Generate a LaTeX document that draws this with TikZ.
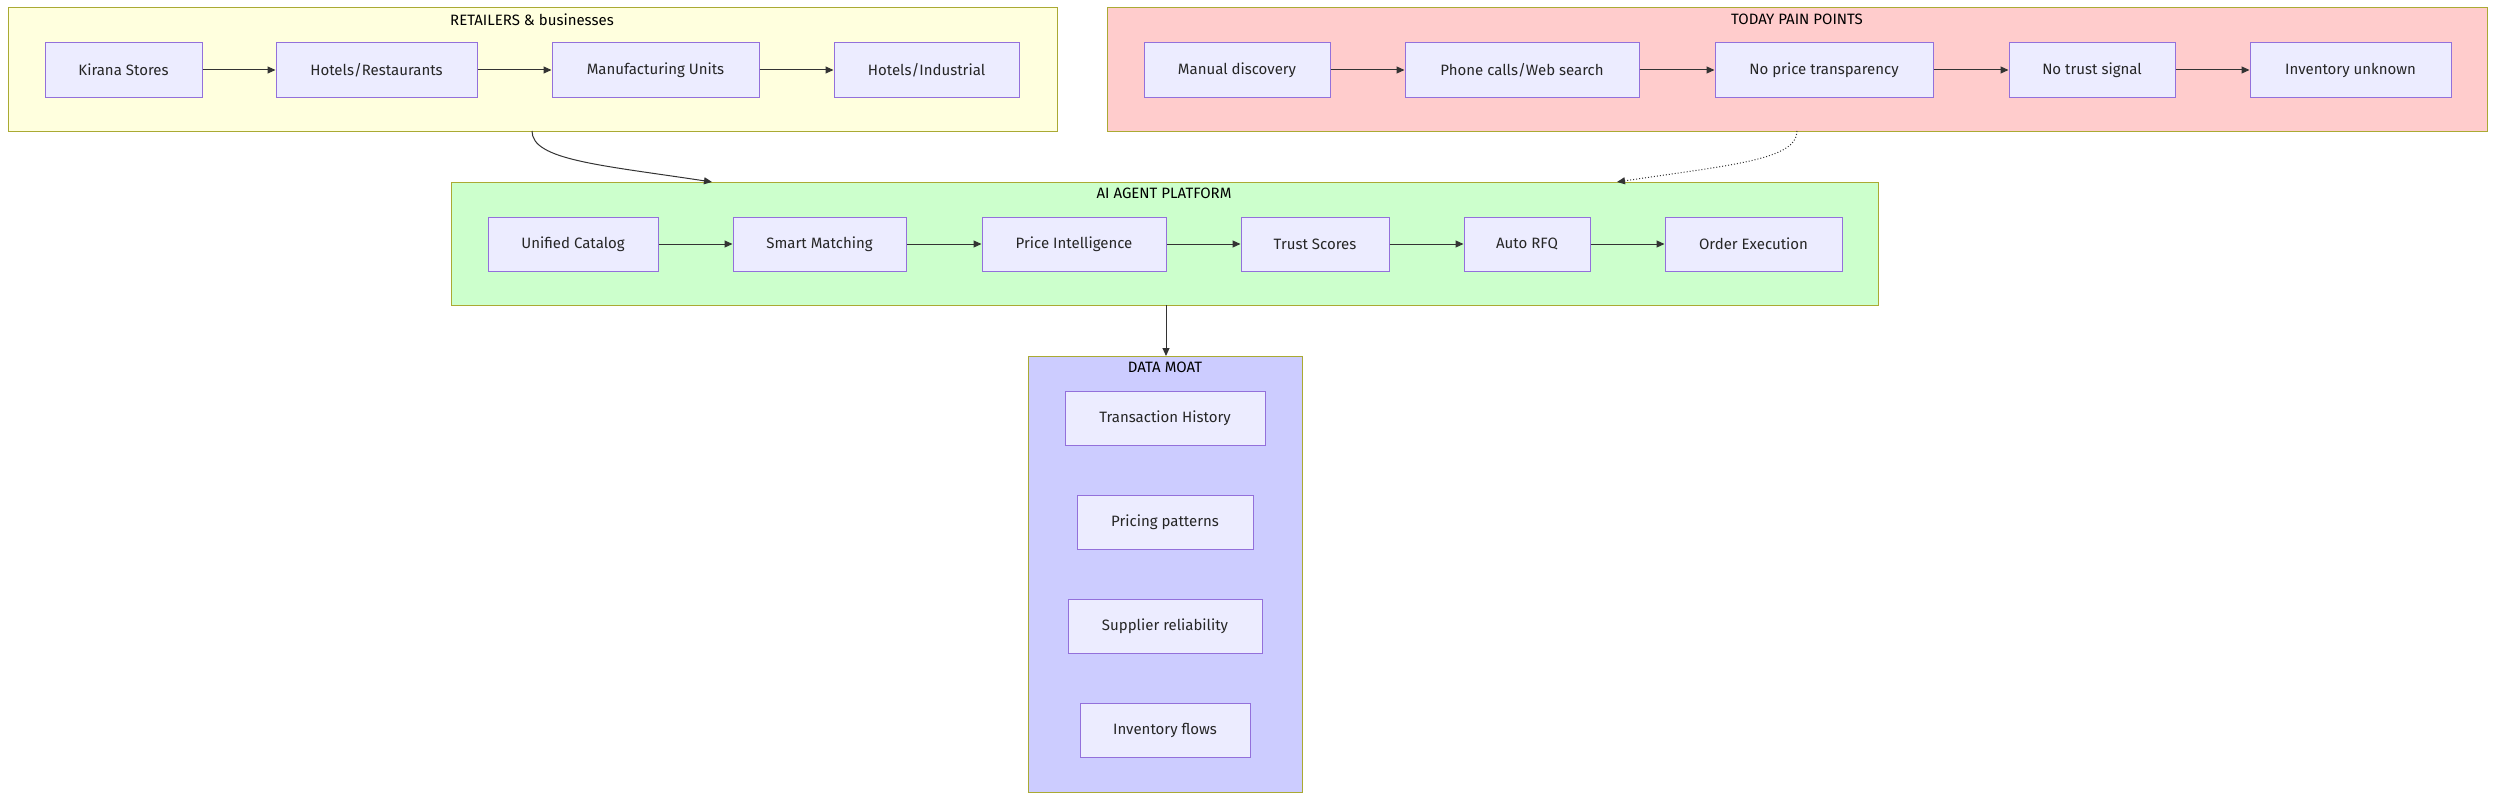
\documentclass[tikz,border=0pt]{standalone}
\usepackage{fontspec}
\setmainfont{Fira Sans}
\usetikzlibrary{arrows.meta}
\definecolor{nodefill}{HTML}{ECECFF}
\definecolor{nodeline}{HTML}{9370DB}
\definecolor{grpline}{HTML}{AAAA33}
\tikzset{
  box/.style={draw=nodeline, fill=nodefill, line width=1pt, inner sep=0pt,
    font=\fontsize{15}{18}\selectfont, text=black!85},
  grp/.style={draw=grpline, line width=1pt},
  title/.style={font=\fontsize{15}{18}\selectfont, anchor=north},
  flow/.style={draw=black!80, line width=1pt, -{Triangle[length=8pt,width=7pt]}}
}
\begin{document}
\begin{tikzpicture}[x=1pt,y=-1pt]
\useasboundingbox (0,0) rectangle (2495,800);
%groups
\draw[grp, fill={rgb,255:red,255;green,255;blue,222}] (8,8) rectangle (1057,131);
\draw[grp, fill={rgb,255:red,255;green,204;blue,204}] (1107,8) rectangle (2487,131);
\draw[grp, fill={rgb,255:red,204;green,255;blue,204}] (451,182) rectangle (1878,305);
\draw[grp, fill={rgb,255:red,204;green,204;blue,255}] (1028,356) rectangle (1302,792);
\node[title] (tRet) at (532,10) {RETAILERS \& businesses};
\node[title] (tPain) at (1797,10) {TODAY PAIN POINTS};
\node[title] (tAi) at (1164,184) {AI AGENT PLATFORM};
\node[title] (tMoat) at (1165,358) {DATA MOAT};
%nodes: name/left/right/top/bottom/text
\foreach \n/\l/\r/\t/\b/\s in {
  r1/45/202/43/97/{Kirana Stores},
  r2/276/477/43/97/{Hotels/Restaurants},
  r3/552/759/43/97/{Manufacturing Units},
  r4/834/1019/43/97/{Hotels/Industrial},
  p1/1144/1330/43/97/{Manual discovery},
  p2/1405/1639/43/97/{Phone calls/Web search},
  p3/1715/1933/43/97/{No price transparency},
  p4/2009/2175/43/97/{No trust signal},
  p5/2250/2451/43/97/{Inventory unknown},
  a1/488/658/217/271/{Unified Catalog},
  a2/733/906/217/271/{Smart Matching},
  a3/982/1166/217/271/{Price Intelligence},
  a4/1241/1389/217/271/{Trust Scores},
  a5/1464/1590/217/271/{Auto RFQ},
  a6/1665/1842/217/271/{Order Execution},
  m1/1065/1265/391/445/{Transaction History},
  m2/1077/1253/495/549/{Pricing patterns},
  m3/1068/1262/599/653/{Supplier reliability},
  m4/1080/1250/703/757/{Inventory flows}}
{
  \node[box, minimum width={(\r-\l)*1pt}, minimum height={(\b-\t)*1pt}]
    (\n) at ({(\l+\r)/2},{(\t+\b)/2}) {\s};
}
\foreach \u/\v in {r1/r2,r2/r3,r3/r4,p1/p2,p2/p3,p3/p4,p4/p5,a1/a2,a2/a3,a3/a4,a4/a5,a5/a6}
  \draw[flow] (\u) -- (\v);
%links between groups
\coordinate (retB) at (532,131);
\coordinate (aiTl) at (712,182);
\coordinate (painB) at (1797,131);
\coordinate (aiTr) at (1617,182);
\coordinate (aiB) at (1166,305);
\coordinate (moatT) at (1166,356);
\draw[flow] (retB) .. controls (532,160) and (600,165) .. (aiTl);
\draw[flow, dotted] (painB) .. controls (1797,160) and (1730,165) .. (aiTr);
\draw[flow] (aiB) -- (moatT);
\end{tikzpicture}
\end{document}
